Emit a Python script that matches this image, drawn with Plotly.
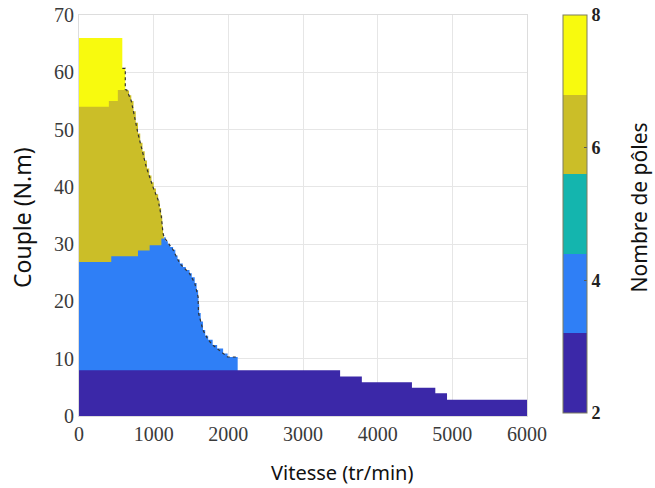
import plotly.graph_objects as go

# frontières supérieures (en escalier) de chaque zone
x_p8 = [0, 580, 620, 645]
y_p8 = [66, 60.7, 57, 0]

x_p6 = [0, 400, 520, 610, 640, 670, 700, 730, 760, 790, 820, 850, 880, 910,
        940, 970, 1000, 1030, 1060, 1080, 1100, 1115, 1125, 1135]
y_p6 = [54, 55, 56.9, 56.9, 56.8, 56, 55, 53.2, 51.2, 49.3, 47.7, 46.2, 44.6,
        43.2, 42, 40.8, 39.7, 38.7, 37.6, 36.3, 35, 33.2, 31.9, 0]

x_p4 = [0, 432, 790, 946, 1103, 1140, 1160, 1190, 1220, 1260, 1290, 1320, 1350,
        1390, 1430, 1480, 1510, 1550, 1575, 1595, 1600, 1610, 1630, 1660, 1690,
        1730, 1790, 1850, 1930, 1990, 2125]
y_p4 = [26.9, 27.9, 28.9, 29.8, 31, 31.2, 30.5, 30, 29.5, 29, 28, 27.3, 26.6,
        26, 25.5, 24.9, 24.2, 23.2, 22, 20.8, 19.5, 18, 16.5, 15, 14, 13.3,
        12.4, 11.8, 10.9, 10.3, 0]

x_p2 = [0, 3497, 3788, 4459, 4772, 4929, 6000]
y_p2 = [8, 6.9, 5.9, 4.95, 3.96, 2.85, 2.85]

# contour extérieur pointillé (limite de couple)
x_edge = [580, 620, 620, 640, 700, 790, 900, 990, 1060, 1103, 1125, 1140,
          1260, 1350, 1480, 1550, 1595, 1600, 1660, 1730, 1790, 1930, 1990, 2110]
y_edge = [60.7, 60.7, 57, 56.9, 55, 49.3, 43.5, 40, 37.7, 34.8, 31.9, 31.2,
          29, 26.6, 24.9, 23.2, 20.8, 18, 15, 13.3, 12.4, 10.9, 10.3, 10.3]

c2, c3, c5, c6, c8 = '#3b28a8', '#2f7ff6', '#14b5ae', '#cbbe28', '#f8fa0e'

fig = go.Figure()
for xs, ys, col in [(x_p8, y_p8, c8), (x_p6, y_p6, c6),
                    (x_p4, y_p4, c3), (x_p2, y_p2, c2)]:
    fig.add_trace(go.Scatter(x=xs, y=ys, mode='lines', line_shape='hv',
                             line=dict(width=0, color=col), fill='tozeroy',
                             fillcolor=col, showlegend=False, hoverinfo='skip'))

fig.add_trace(go.Scatter(x=x_edge, y=y_edge, mode='lines',
                         line=dict(color='#333333', width=1.2, dash='dot'),
                         showlegend=False, hoverinfo='skip'))

# barre de couleur (parula, 5 niveaux)
scale = [[0, c2], [0.2, c2], [0.2, c3], [0.4, c3], [0.4, c5], [0.6, c5],
         [0.6, c6], [0.8, c6], [0.8, c8], [1, c8]]
fig.add_trace(go.Scatter(
    x=[None], y=[None], mode='markers', showlegend=False,
    marker=dict(color=[2, 8], cmin=2, cmax=8, colorscale=scale, showscale=True,
                colorbar=dict(x=1.08, xanchor='left', xpad=0, ypad=0,
                              y=0.504, yanchor='middle', len=0.9925,
                              thickness=24, outlinewidth=1,
                              outlinecolor='#7d7d60',
                              tickvals=[2, 4, 6, 8], ticks='inside', ticklen=3,
                              tickcolor='#555555',
                              tickfont=dict(family='Liberation Serif', size=18,
                                            color='#222222', weight='bold')))))

title_font = dict(family='Noto Sans', color='#111111')
fig.add_annotation(text='Nombre de pôles', textangle=-90, x=1.252, y=0.52,
                   xanchor='center', xref='paper', yref='paper', showarrow=False,
                   font=dict(size=21, **title_font))
fig.add_annotation(text='Vitesse (tr/min)', x=0.587, y=-0.14, yanchor='middle',
                   xanchor='center', xref='paper', yref='paper', showarrow=False,
                   font=dict(size=20, **title_font))
fig.add_annotation(text='Couple (N.m)', textangle=-90, x=-0.127, y=0.494,
                   xanchor='center', xref='paper', yref='paper', showarrow=False,
                   font=dict(size=23, **title_font))

tick_font = dict(family='Liberation Serif', size=20, color='#3a3a3a')
fig.update_layout(
    width=655, height=488,
    margin=dict(l=79, r=128, t=15, b=72, autoexpand=False),
    plot_bgcolor='white', paper_bgcolor='white',
    xaxis=dict(range=[0, 6000], tickvals=[0, 1000, 2000, 3000, 4000, 5000, 6000],
               showgrid=True, gridcolor='#e6e6e6', zeroline=False,
               showline=True, linecolor='#dddddd', mirror=True,
               tickfont=tick_font, ticklabeloverflow='allow'),
    yaxis=dict(range=[0, 70], tickvals=[0, 10, 20, 30, 40, 50, 60, 70],
               showgrid=True, gridcolor='#e6e6e6', zeroline=False,
               showline=True, linecolor='#dddddd', mirror=True,
               tickfont=tick_font, ticklabeloverflow='allow'),
)

# pas de marge autour de la figure dans la page
fig.write_html('out.html', config={'displayModeBar': False},
               post_script="document.body.style.margin='0';")
